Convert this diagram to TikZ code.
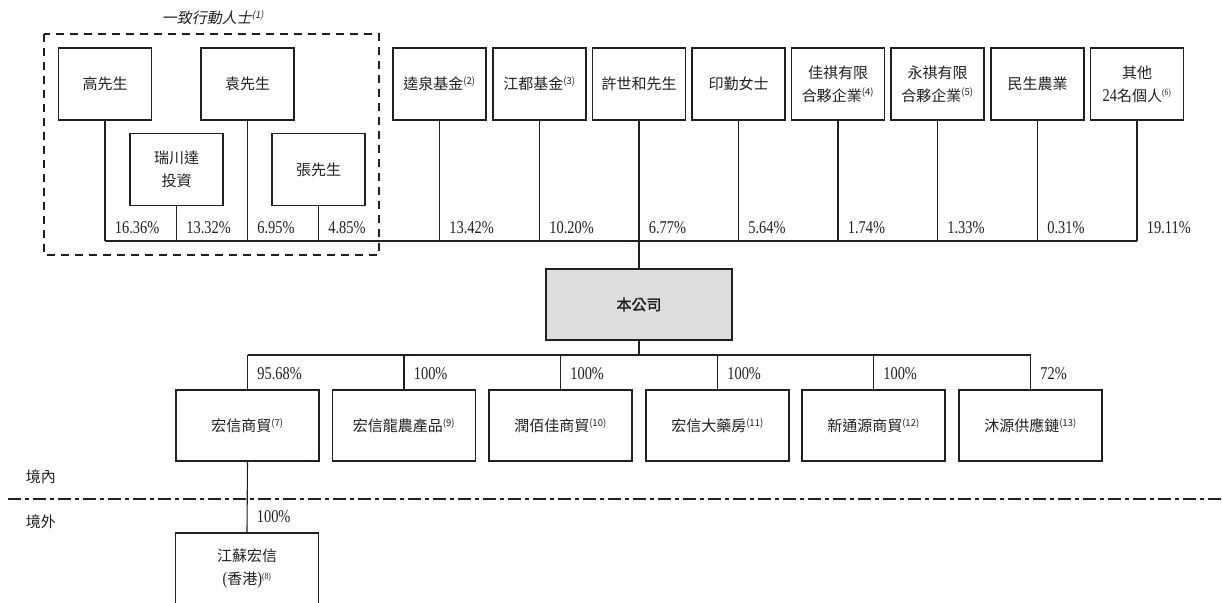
\documentclass[tikz,border=0pt]{standalone}
\usepackage{fontspec}
\setmainfont{Liberation Serif}[FakeStretch=0.8]
\newfontfamily\cjk{Noto Sans CJK TC}[AutoFakeBold=2]
\newfontfamily\cjkit{Noto Sans CJK TC}[FakeSlant=0.2]
\newcommand\fn[1]{\textsuperscript{\fontsize{9.5}{9.5}\selectfont(#1)}}
\newcommand\latn[1]{{\fontsize{18}{23}\selectfont#1}}
\definecolor{ink}{HTML}{231F20}
\definecolor{shade}{HTML}{DCDDDC}

\begin{document}
\begin{tikzpicture}[x=1pt,y=-1pt,line width=1.1pt,color=ink,
  every node/.style={font=\fontsize{15}{23}\selectfont},
  holder/.style={draw,minimum width=93,minimum height=72,inner sep=0,align=center},
  sub/.style={draw,minimum width=143,minimum height=71,inner sep=0,align=center},
  pct/.style={anchor=base west,xshift=6,yshift=8,font=\fontsize{18}{20}\selectfont}]
\useasboundingbox (0,0) rectangle (1222,602);
\clip (0,0) rectangle (1222,602);

\node (title) at (213,18) {\cjkit 一致行動人士\textit{\fn{1}}};
\draw[dash pattern=on 8pt off 6pt] (44,34) rectangle (379,255);

\node[holder] (gao) at (105,84) {\cjk 高先生};
\node[holder] (yuan) at (247.5,84) {\cjk 袁先生};
\node[holder] (ruichuan) at (176.5,169.5) {\cjk 瑞川達\\\cjk 投資};
\node[holder] (zhang) at (318.5,169.5) {\cjk 張先生};

\node[holder] (kuiquan) at (439.5,84) {\cjk 逵泉基金\fn{2}};
\node[holder] (jiangdu) at (539.5,84) {\cjk 江都基金\fn{3}};
\node[holder] (xu) at (639,84) {\cjk 許世和先生};
\node[holder] (yin) at (738.5,84) {\cjk 印勤女士};
\node[holder] (jiaqi) at (838,84) {\cjk 佳祺有限\\\cjk 合夥企業\fn{4}};
\node[holder] (yongqi) at (937.5,84) {\cjk 永祺有限\\\cjk 合夥企業\fn{5}};
\node[holder] (minsheng) at (1037.5,84) {\cjk 民生農業};
\node[holder] (others) at (1137,84) {\cjk 其他\\\latn{24}{\cjk 名個人}\fn{6}};

\node[holder,minimum width=186,minimum height=71,fill=shade] (company) at (639,304.5) {\cjk\bfseries 本公司};

\node[sub] (hxsm) at (247.5,425.5) {\cjk 宏信商貿\fn{7}};
\node[sub] (hxln) at (404,425.5) {\cjk 宏信龍農產品\fn{9}};
\node[sub] (rbj) at (560.5,425.5) {\cjk 潤佰佳商貿\fn{10}};
\node[sub] (hxdyf) at (717.5,425.5) {\cjk 宏信大藥房\fn{11}};
\node[sub] (xty) at (873.5,425.5) {\cjk 新通源商貿\fn{12}};
\node[sub] (muyuan) at (1030.5,425.5) {\cjk 沐源供應鏈\fn{13}};
\node[sub] (hk) at (247,568.5) {\cjk 江蘇宏信\\\latn{(}{\cjk 香港}\latn{)}\fn{8}};

\node[anchor=west] (inside) at (22,477) {\cjk 境內};
\node[anchor=west] (outside) at (22,522) {\cjk 境外};
\draw[dash pattern=on 13pt off 4pt on 4pt off 4pt] (8,499) -- (1222,499);

\coordinate (topbus) at (0,241);
\coordinate (subbus) at (0,355);

\draw (gao.south) -- (gao.south |- topbus) node[pct] {16.36\%};
\draw (ruichuan.south) -- (ruichuan.south |- topbus) node[pct] {13.32\%};
\draw (yuan.south) -- (yuan.south |- topbus) node[pct] {6.95\%};
\draw (zhang.south) -- (zhang.south |- topbus) node[pct] {4.85\%};
\draw (kuiquan.south) -- (kuiquan.south |- topbus) node[pct] {13.42\%};
\draw (jiangdu.south) -- (jiangdu.south |- topbus) node[pct] {10.20\%};
\draw (xu.south) -- (xu.south |- topbus) node[pct] {6.77\%};
\draw (yin.south) -- (yin.south |- topbus) node[pct] {5.64\%};
\draw (jiaqi.south) -- (jiaqi.south |- topbus) node[pct] {1.74\%};
\draw (yongqi.south) -- (yongqi.south |- topbus) node[pct] {1.33\%};
\draw (minsheng.south) -- (minsheng.south |- topbus) node[pct] {0.31\%};
\draw (others.south) -- (others.south |- topbus) node[pct] {19.11\%};
\draw (gao.south |- topbus) -- (others.south |- topbus);
\draw (xu.south |- topbus) -- (company.north);

\draw (company.south) -- (company.south |- subbus);
\draw (hxsm.north |- subbus) -- (muyuan.north |- subbus);
\draw (hxsm.north |- subbus) -- (hxsm.north) node[pct,yshift=2] {95.68\%};
\draw (hxln.north |- subbus) -- (hxln.north) node[pct,yshift=2] {100\%};
\draw (rbj.north |- subbus) -- (rbj.north) node[pct,yshift=2] {100\%};
\draw (hxdyf.north |- subbus) -- (hxdyf.north) node[pct,yshift=2] {100\%};
\draw (xty.north |- subbus) -- (xty.north) node[pct,yshift=2] {100\%};
\draw (muyuan.north |- subbus) -- (muyuan.north) node[pct,yshift=2] {72\%};
\draw (hxsm.south) -- (hk.north) node[pct,yshift=2] {100\%};
\end{tikzpicture}
\end{document}
